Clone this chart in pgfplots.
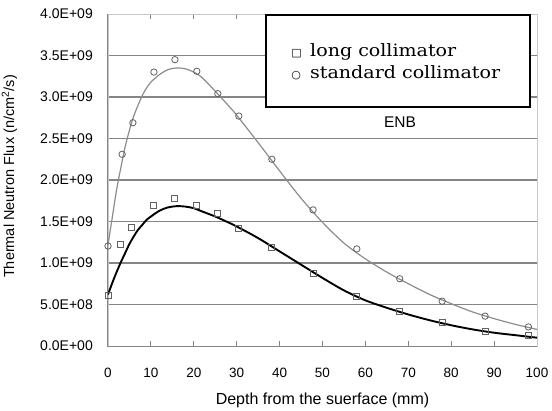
\documentclass[border=0pt]{standalone}
\usepackage{pgfplots}
\pgfplotsset{compat=1.18}
\usepackage{fontspec}
\setmainfont{Liberation Sans}
\newfontfamily\legserif{DejaVu Serif}
\newfontfamily\symfont{DejaVu Sans}
\definecolor{gridgray}{gray}{0.52}
\definecolor{bordergray}{gray}{0.78}
\definecolor{curvegray}{gray}{0.55}
\definecolor{markgray}{gray}{0.38}
\begin{document}
\begin{tikzpicture}
\path[use as bounding box] (-108pt,-64pt) rectangle (444pt,346pt);
\begin{axis}[
  at={(0pt,0pt)}, anchor=south west,
  scale only axis, width=429pt, height=332pt,
  xmin=0, xmax=100, ymin=0, ymax=4e9,
  clip=false,
  scaled y ticks=false,
  axis line style={draw=bordergray, line width=0.8pt},
  xtick={0,10,...,100},
  ytick={5e8,1e9,1.5e9,2e9,2.5e9,3e9,3.5e9},
  yticklabels={5.0E+08,1.0E+09,1.5E+09,2.0E+09,2.5E+09,3.0E+09,3.5E+09},
  extra y ticks={0,4e9},
  extra y tick labels={0.0E+00,4.0E+09},
  extra y tick style={grid=none},
  ymajorgrids,
  grid style={draw=gridgray, line width=1.1pt},
  tick align=inside,
  major tick length=5pt,
  xtick style={draw=gridgray, line width=0.8pt},
  ytick style={draw=none},
  /pgf/number format/assume math mode=true,
  tick label style={font=\fontsize{13.5}{15}\selectfont, inner sep=0pt},
  yticklabel style={anchor=east, xshift=-15pt, font=\fontsize{14}{15}\selectfont},
  xticklabel style={anchor=north, yshift=-22pt},
  xlabel={Depth from the suerface (mm)},
  xlabel style={font=\fontsize{16}{18}\selectfont, at={(axis description cs:0.5,-0.1777)}, anchor=base, inner sep=0pt},
  ylabel={Thermal Neutron Flux (n/cm\textsuperscript{2}/s)},
  ylabel style={font=\fontsize{14.5}{16}\selectfont, at={(axis description cs:-0.2191,0.5105)}, anchor=base, inner sep=0pt},
]
% fitted curves
\addplot[curvegray, line width=1.2pt, smooth, tension=0.5] coordinates {
(0,1.22e9) (1,1.55e9) (2,1.88e9) (3,2.15e9) (4,2.4e9) (5,2.6e9) (6,2.77e9) (7,2.9e9) (8,3.02e9) (9,3.11e9) (10,3.18e9) (12,3.27e9) (14,3.33e9) (16,3.35e9) (18,3.34e9) (20,3.30e9) (22,3.23e9) (25,3.07e9) (28,2.90e9) (30,2.78e9) (35,2.45e9) (40,2.11e9) (45,1.78e9) (50,1.49e9) (55,1.24e9) (60,1.05e9) (65,0.89e9) (70,0.75e9) (75,0.62e9) (80,0.51e9) (85,0.41e9) (90,0.33e9) (95,0.26e9) (100,0.2e9)
};
\addplot[black, line width=1.9pt, smooth, tension=0.5] coordinates {
(0,0.62e9) (1,0.76e9) (2,0.89e9) (3,1.01e9) (4,1.12e9) (5,1.23e9) (6,1.32e9) (7,1.40e9) (8,1.46e9) (9,1.52e9) (10,1.56e9) (12,1.63e9) (14,1.67e9) (16,1.685e9) (18,1.68e9) (20,1.66e9) (22,1.62e9) (25,1.56e9) (28,1.49e9) (30,1.44e9) (35,1.30e9) (40,1.14e9) (45,0.98e9) (50,0.82e9) (55,0.67e9) (60,0.55e9) (65,0.46e9) (70,0.38e9) (75,0.31e9) (80,0.25e9) (85,0.20e9) (90,0.16e9) (95,0.13e9) (100,0.10e9)
};
% measured points
\addplot[only marks, mark=o, mark size=3.2pt, mark options={draw=markgray, fill=white, line width=0.8pt}] coordinates {
(0,1.205e9) (3.3,2.31e9) (5.8,2.69e9) (10.7,3.30e9) (15.6,3.45e9) (20.7,3.31e9) (25.6,3.04e9) (30.5,2.77e9) (38.2,2.25e9) (47.8,1.64e9) (58,1.17e9) (68,0.81e9) (77.9,0.54e9) (87.9,0.36e9) (98,0.23e9)
};
\addplot[only marks, mark=square, mark size=3pt, mark options={draw=markgray, fill=white, line width=0.8pt}] coordinates {
(0,0.61e9) (3,1.22e9) (5.5,1.43e9) (10.5,1.69e9) (15.4,1.78e9) (20.5,1.69e9) (25.4,1.60e9) (30.3,1.42e9) (38,1.19e9) (47.8,0.88e9) (57.8,0.60e9) (68,0.42e9) (77.9,0.28e9) (87.9,0.18e9) (98,0.13e9)
};
% darker left and bottom axis lines
\draw[draw=gridgray, line width=1pt] (rel axis cs:0,1) -- (rel axis cs:0,0) -- (rel axis cs:1,0);
% legend box
\draw[black, fill=white, line width=1.6pt] (axis cs:36.83,3.988e9) rectangle (axis cs:98.37,2.8795e9);
\node[anchor=base west, inner sep=0pt, font=\symfont\fontsize{11}{13}\selectfont] at (axis cs:42.7,3.494e9) {□};
\node[anchor=base west, inner sep=0pt, font=\symfont\fontsize{11}{13}\selectfont] at (axis cs:42.7,3.217e9) {○};
\node[anchor=base west, inner sep=0pt, font=\legserif\fontsize{17}{20}\selectfont] at (axis cs:47.09,3.494e9) {\scalebox{1.12}[1]{long collimator}};
\node[anchor=base west, inner sep=0pt, font=\legserif\fontsize{17}{20}\selectfont] at (axis cs:47.09,3.217e9) {\scalebox{1.12}[1]{standard collimator}};
\node[font=\fontsize{15.5}{17}\selectfont, inner sep=0pt] at (axis cs:68.07,2.699e9) {ENB};
\end{axis}
\end{tikzpicture}
\end{document}
